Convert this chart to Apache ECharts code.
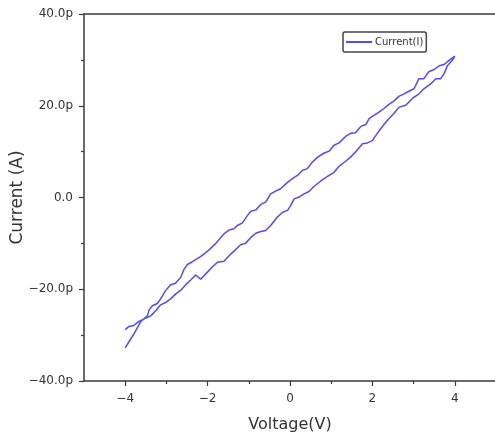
<!DOCTYPE html>
<html>
<head>
<meta charset="utf-8">
<script src="https://cdn.jsdelivr.net/npm/echarts@6/dist/echarts.min.js"></script>
<style>html,body{margin:0;padding:0;background:#fff;}#c{width:495px;height:438px;}</style>
</head>
<body>
<div id="c"></div>
<script>
// Voltage (V) and current (pA), traced as one loop
var voltage = [
  -4.00,-3.87,-3.79,-3.70,-3.62,-3.46,-3.42,-3.34,-3.22,-3.14,-3.02,-2.90,-2.78,-2.65,-2.57,-2.49,-2.37,-2.17,-2.00,-1.80,
  -1.60,-1.48,-1.36,-1.28,-1.16,-1.03,-0.95,-0.83,-0.71,-0.59,-0.47,-0.35,-0.23,-0.06,0.06,0.18,0.30,0.42,0.54,0.67,
  0.83,0.95,1.07,1.19,1.35,1.47,1.59,1.72,1.84,1.92,2.04,2.16,2.28,2.40,2.52,2.65,2.77,2.85,3.01,3.13,
  3.25,3.37,3.50,3.62,3.74,3.86,4.00,
  3.94,3.82,3.74,3.66,3.54,3.42,3.25,3.13,2.97,2.81,2.65,2.52,2.36,2.20,2.08,2.00,1.88,1.76,1.59,1.47,
  1.35,1.19,1.07,0.91,0.75,0.58,0.46,0.34,0.22,0.10,0.02,-0.06,-0.18,-0.31,-0.47,-0.59,-0.71,-0.83,-0.95,-1.08,
  -1.20,-1.36,-1.48,-1.60,-1.76,-1.88,-2.05,-2.17,-2.29,-2.41,-2.53,-2.65,-2.77,-2.90,-3.02,-3.14,-3.26,-3.38,-3.50,-3.67,
  -3.79,-3.91,-4.00
];
var current = [
  -32.8,-30.9,-29.8,-28.3,-27.0,-25.8,-24.5,-23.6,-23.1,-22.1,-20.3,-19.0,-18.7,-17.4,-15.6,-14.6,-14.0,-12.9,-11.7,-10.0,
  -7.9,-7.1,-6.8,-6.1,-5.6,-3.9,-3.0,-2.7,-1.5,-1.0,0.8,1.4,1.9,3.3,4.1,4.8,5.9,6.3,7.7,8.8,
  9.7,10.1,11.4,11.9,13.3,14.0,14.1,15.5,15.9,17.2,17.9,18.6,19.4,20.3,21.0,22.1,22.6,23.0,23.7,25.9,
  25.9,27.4,27.9,28.7,29.0,29.9,30.8,
  29.9,28.7,27.0,25.9,25.9,24.8,23.7,22.6,21.6,20.1,19.7,18.3,16.8,15.0,13.5,12.4,11.9,11.7,9.9,8.8,
  7.9,6.8,5.5,4.6,3.6,2.4,1.3,0.8,0.1,-0.3,-1.7,-2.8,-3.2,-4.3,-6.1,-7.2,-7.4,-7.8,-8.7,-10.0,
  -10.3,-11.7,-12.7,-13.9,-14.1,-15.1,-16.7,-17.8,-16.9,-18.0,-19.0,-20.2,-21.0,-22.1,-22.9,-23.4,-24.7,-25.8,-26.3,-27.0,
  -27.9,-28.1,-28.8
];
var seriesName = 'Current(I)';
var xTickValues = [-4, -2, 0, 2, 4];

var data = voltage.map(function (v, i) { return [v, current[i]]; });
function minus(s) { return String(s).replace('-', '\u2212'); }

var chart = echarts.init(document.getElementById('c'), null, { renderer: 'canvas' });
var axisColor = '#3a3a3a';
var font = 'DejaVu Sans';
chart.setOption({
  animation: false,
  backgroundColor: '#ffffff',
  grid: { left: 84, top: 14, width: 412, height: 367, containLabel: false, outerBoundsMode: 'none' },
  legend: {
    show: true,
    left: 343, top: 32,
    padding: [5, 3, 5, 3],
    borderColor: '#444', borderWidth: 1.5, borderRadius: 2,
    itemWidth: 26, itemHeight: 2, itemGap: 4,
    icon: 'rect',
    textStyle: { fontFamily: font, fontSize: 10, color: '#333', padding: [0, 0, 0, -2] },
    data: [seriesName]
  },
  xAxis: [{
    type: 'value', position: 'bottom', min: -5, max: 5,
    name: 'Voltage(V)', nameLocation: 'middle', nameGap: 36, nameMoveOverlap: false,
    nameTextStyle: { fontFamily: font, fontSize: 16, color: '#333' },
    axisLine: { show: true, onZero: false, lineStyle: { color: axisColor, width: 1.5 } },
    axisTick: { show: true, inside: false, length: 5, customValues: xTickValues, lineStyle: { color: axisColor, width: 1.2 } },
    minorTick: { show: true, splitNumber: 2, length: 3, lineStyle: { color: axisColor, width: 1.2 } },
    axisLabel: { show: true, customValues: xTickValues, margin: 12, fontFamily: font, fontSize: 12, color: '#333', formatter: function (v) { return minus(v); } },
    splitLine: { show: false }
  }, {
    type: 'value', position: 'top', min: -5, max: 5,
    axisLine: { show: true, onZero: false, lineStyle: { color: axisColor, width: 1.5 } },
    axisTick: { show: false }, axisLabel: { show: false }, splitLine: { show: false }
  }],
  yAxis: {
    type: 'value', position: 'left', min: -40, max: 40, interval: 20,
    name: 'Current (A)', nameLocation: 'middle', nameGap: 58, nameRotate: 90, nameMoveOverlap: false,
    nameTextStyle: { fontFamily: font, fontSize: 17, color: '#333' },
    axisLine: { show: true, onZero: false, lineStyle: { color: axisColor, width: 1.5 } },
    axisTick: { show: true, inside: false, length: 5, lineStyle: { color: axisColor, width: 1.2 } },
    minorTick: { show: true, splitNumber: 2, length: 3, lineStyle: { color: axisColor, width: 1.2 } },
    axisLabel: { show: true, margin: 11, fontFamily: font, fontSize: 12, color: '#333',
      formatter: function (v) { return v === 0 ? '0.0' : minus(v.toFixed(1) + 'p'); } },
    splitLine: { show: false }
  },
  series: [{
    name: seriesName, type: 'line', xAxisIndex: 0, data: data,
    showSymbol: false, symbol: 'none', smooth: false,
    lineStyle: { color: '#4d4dff', width: 1.5 },
    itemStyle: { color: '#4d4dff' }
  }]
});
</script>
</body>
</html>
